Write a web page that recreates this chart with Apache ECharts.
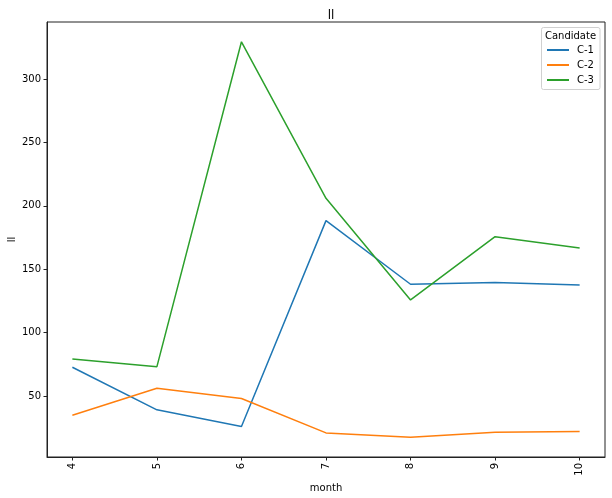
<!DOCTYPE html>
<html>
<head>
<meta charset="utf-8">
<script src="https://cdn.jsdelivr.net/npm/echarts@6/dist/echarts.min.js"></script>
<style>html,body{margin:0;padding:0;background:#fff;}#chart{width:612px;height:498px;}</style>
</head>
<body>
<div id="chart"></div>
<script>
const months = [4, 5, 6, 7, 8, 9, 10];
const c1 = [72.6, 39.0, 25.8, 188.3, 138.1, 139.4, 137.5];
const c2 = [34.8, 56.1, 47.9, 20.8, 17.4, 21.4, 21.9];
const c3 = [79.1, 73.1, 329.4, 205.9, 125.7, 175.6, 166.7];
const seriesNames = ['C-1', 'C-2', 'C-3'];
const yTicks = [50, 100, 150, 200, 250, 300];
const colors = ['#1f77b4', '#ff7f0e', '#2ca02c'];

const F = 'DejaVu Sans';
const chart = echarts.init(document.getElementById('chart'));
const pairs = v => months.map((m, i) => [m, v[i]]);
const allVals = [c1, c2, c3];

chart.setOption({
  animation: false,
  color: colors,
  textStyle: { fontFamily: F },
  title: {
    text: 'll', left: 326, top: 5, textAlign: 'center',
    textStyle: { fontSize: 12, fontWeight: 'normal', color: '#000', fontFamily: F }
  },
  grid: { left: 47, right: 7, top: 22, bottom: 41, show: true, borderColor: '#222', borderWidth: 1, containLabel: false, outerBoundsMode: 'none' },
  legend: {
    orient: 'vertical', left: 547, top: 45, padding: 0,
    itemWidth: 22, itemHeight: 10, itemGap: 5,
    icon: 'path://M0,0L22,0L22,2L0,2Z',
    data: seriesNames,
    textStyle: { fontSize: 10, color: '#000', fontFamily: F, padding: [0, 0, 0, 3] }
  },
  graphic: [
    { type: 'rect', shape: { x: 541.5, y: 27.5, width: 58.5, height: 62, r: 2 },
      style: { fill: 'rgba(255,255,255,0.8)', stroke: '#d0d0d0', lineWidth: 1 }, z: 0 },
    { type: 'text', x: 570.5, y: 36, style: { text: 'Candidate', fontSize: 10, fontFamily: F, fill: '#000', align: 'center', verticalAlign: 'middle' }, z: 10 }
  ],
  xAxis: {
    type: 'value', min: 3.7, max: 10.3,
    name: 'month', nameLocation: 'middle', nameGap: 26, nameMoveOverlap: false,
    nameTextStyle: { fontSize: 10, color: '#000', fontFamily: F },
    axisLine: { show: true, lineStyle: { color: '#222' } },
    axisTick: { show: true, length: 3.5, lineStyle: { color: '#222' }, customValues: months },
    axisLabel: { rotate: 90, fontSize: 10, color: '#000', margin: 6, fontFamily: F, customValues: months },
    splitLine: { show: false }
  },
  yAxis: {
    type: 'value', min: 1.8, max: 345,
    name: 'll', nameLocation: 'middle', nameGap: 30, nameMoveOverlap: false,
    nameTextStyle: { fontSize: 10, color: '#000', fontFamily: F },
    axisLine: { show: true, lineStyle: { color: '#222' } },
    axisTick: { show: true, length: 3.5, lineStyle: { color: '#222' }, customValues: yTicks },
    axisLabel: { fontSize: 10, color: '#000', margin: 6, fontFamily: F, customValues: yTicks },
    splitLine: { show: false }
  },
  series: seriesNames.map((n, i) => ({
    name: n, type: 'line', data: pairs(allVals[i]), symbol: 'none',
    lineStyle: { width: 1.5, color: colors[i] }, itemStyle: { color: colors[i] }
  }))
});
</script>
</body>
</html>
